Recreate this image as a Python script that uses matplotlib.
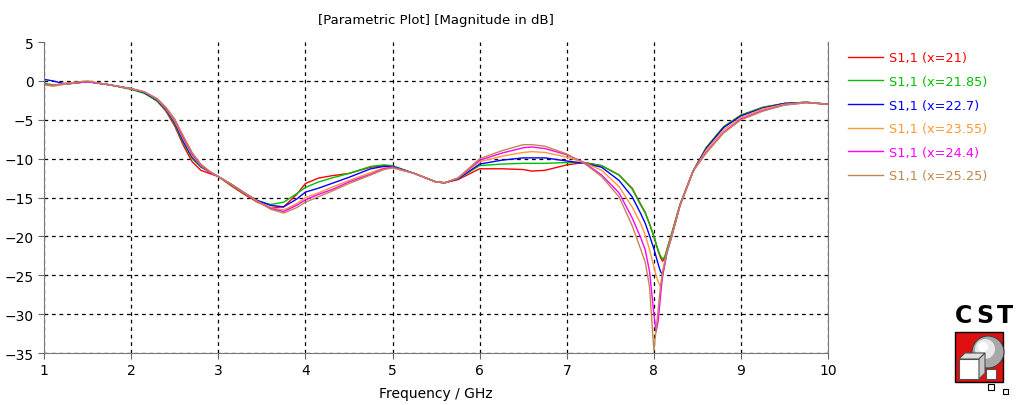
import matplotlib.pyplot as plt
from matplotlib.patches import Rectangle, Circle, Polygon

# frequency samples (GHz), shared by all six curves
freq = [1.0, 1.1, 1.25, 1.5, 1.75, 2.0, 2.15, 2.3, 2.4, 2.5, 2.6, 2.7, 2.8, 2.9, 3.0,
        3.15, 3.3, 3.45, 3.6, 3.75, 3.9, 4.0, 4.15, 4.3, 4.5,
        4.75, 4.9, 5.0, 5.25, 5.5, 5.6, 5.75, 6.0,
        6.25, 6.5, 6.6, 6.75, 7.0, 7.2, 7.4,
        7.6, 7.75, 7.85, 7.9, 7.95, 8.0, 8.025, 8.05, 8.075, 8.1, 8.125, 8.15, 8.2, 8.3, 8.45,
        8.6, 8.8, 9.0, 9.25, 9.5, 9.75, 10.0]

s11_x21 = [-0.4, -0.6, -0.4, -0.1, -0.5, -1.0, -1.5, -2.6, -3.9, -5.8, -8.3, -10.4, -11.5, -11.9, -12.3,
           -13.5, -14.6, -15.6, -16.3, -16.2, -14.6, -13.2, -12.5, -12.2, -11.9,
           -11.1, -10.9, -11.0, -11.9, -13.0, -13.1, -12.7, -11.3,
           -11.3, -11.4, -11.6, -11.5, -10.8, -10.5, -10.9,
           -12.1, -13.8, -15.9, -16.9, -18.4, -20.0, -21.0, -21.9, -22.7, -23.2, -22.7, -21.7, -19.8, -15.9, -11.6,
           -8.6, -5.9, -4.4, -3.4, -2.9, -2.75, -3.0]

s11_x21_85 = [-0.3, -0.5, -0.4, -0.1, -0.5, -1.1, -1.6, -2.6, -3.8, -5.6, -8.0, -10.0, -11.1, -11.7, -12.3,
              -13.4, -14.5, -15.4, -15.9, -15.6, -14.5, -13.7, -13.0, -12.5, -11.9,
              -11.0, -10.8, -10.9, -11.9, -13.0, -13.1, -12.6, -10.9,
              -10.7, -10.6, -10.6, -10.6, -10.5, -10.5, -10.9,
              -12.1, -13.9, -16.0, -17.0, -18.4, -20.0, -20.9, -21.8, -22.5, -22.9, -22.6, -21.6, -19.8, -15.9, -11.6,
              -8.6, -5.9, -4.4, -3.4, -2.9, -2.75, -3.0]

s11_x22_7 = [0.2, 0.0, -0.4, -0.1, -0.5, -1.0, -1.5, -2.5, -3.7, -5.4, -7.8, -9.8, -11.0, -11.7, -12.3,
             -13.3, -14.4, -15.4, -16.0, -16.2, -15.2, -14.3, -13.8, -13.2, -12.4,
             -11.3, -11.0, -11.0, -11.9, -13.0, -13.1, -12.6, -10.7,
             -10.2, -9.9, -9.9, -9.9, -10.3, -10.6, -11.1,
             -12.8, -14.9, -17.1, -18.3, -19.9, -21.6, -22.6, -23.6, -24.5, -24.9, -23.6, -22.1, -20.2, -16.0, -11.6,
             -8.7, -6.0, -4.5, -3.5, -2.9, -2.75, -3.0]

s11_x23_55 = [-0.5, -0.7, -0.4, -0.1, -0.5, -1.0, -1.4, -2.4, -3.6, -5.2, -7.5, -9.6, -10.9, -11.7, -12.3,
              -13.3, -14.4, -15.5, -16.3, -16.6, -15.8, -15.0, -14.4, -13.7, -12.8,
              -11.8, -11.2, -11.1, -11.9, -13.0, -13.1, -12.5, -10.4,
              -9.7, -9.2, -9.1, -9.2, -9.8, -10.5, -11.5,
              -13.6, -16.2, -18.4, -19.8, -21.7, -23.9, -25.0, -25.9, -26.4, -25.2, -23.5, -22.0, -20.2, -16.0, -11.6,
              -8.9, -6.3, -4.7, -3.6, -3.0, -2.75, -3.0]

s11_x24_4 = [-0.4, -0.6, -0.3, -0.1, -0.5, -1.0, -1.4, -2.3, -3.5, -5.0, -7.3, -9.4, -10.8, -11.7, -12.3,
             -13.3, -14.4, -15.5, -16.4, -16.8, -16.0, -15.3, -14.6, -14.0, -13.0,
             -12.0, -11.3, -11.1, -11.9, -13.0, -13.1, -12.5, -10.2,
             -9.3, -8.6, -8.5, -8.7, -9.5, -10.5, -12.1,
             -14.4, -17.6, -20.2, -21.7, -24.5, -30.0, -32.3, -30.8, -27.8, -25.0, -23.3, -21.9, -20.1, -16.0, -11.6,
             -9.2, -6.6, -4.9, -3.8, -3.1, -2.8, -3.0]

s11_x25_25 = [-0.5, -0.6, -0.3, 0.0, -0.5, -1.0, -1.4, -2.3, -3.4, -4.9, -7.1, -9.2, -10.7, -11.6, -12.3,
              -13.3, -14.4, -15.5, -16.5, -17.0, -16.3, -15.6, -14.9, -14.2, -13.2,
              -12.1, -11.4, -11.2, -11.9, -13.0, -13.1, -12.5, -10.0,
              -9.0, -8.2, -8.2, -8.4, -9.4, -10.6, -12.3,
              -14.9, -18.6, -21.7, -23.3, -26.5, -34.7, -32.0, -29.3, -26.5, -24.5, -23.2, -21.9, -20.1, -16.0, -11.6,
              -9.3, -6.7, -5.0, -3.9, -3.1, -2.8, -3.0]

series = [s11_x21, s11_x21_85, s11_x22_7, s11_x23_55, s11_x24_4, s11_x25_25]
labels = ["S1,1 (x=21)", "S1,1 (x=21.85)", "S1,1 (x=22.7)",
          "S1,1 (x=23.55)", "S1,1 (x=24.4)", "S1,1 (x=25.25)"]
colors = ["#ff0000", "#00c000", "#0000ff", "#ff9933", "#ff00ff", "#c08850"]

fig = plt.figure(figsize=(10.17, 4.06), dpi=100)
ax = fig.add_axes([0.0433, 0.128, 0.771, 0.766])

for vals, lab, col in zip(series, labels, colors):
    ax.plot(freq, vals, color=col, lw=1.0, label=lab)

ax.set_xlim(1, 10)
ax.set_ylim(-35, 5)
ax.set_xticks(range(1, 11))
ax.set_yticks(range(-35, 6, 5))
ax.grid(True, color='black', linestyle=(0, (3, 3)), linewidth=0.9)
ax.yaxis.get_gridlines()[-1].set_visible(False)  # no dashed line at the top (5 dB)
ax.tick_params(labelsize=10, length=4, color='#666666')
for side in ['left', 'bottom', 'right']:
    ax.spines[side].set_color('#777777')
ax.spines['top'].set_visible(False)

ax.set_title("[Parametric Plot] [Magnitude in dB]", fontsize=9.5, pad=14)
ax.set_xlabel("Frequency / GHz", fontsize=10, labelpad=6)

leg = ax.legend(loc='upper left', bbox_to_anchor=(1.0255, 0.97), frameon=False,
                borderaxespad=0, borderpad=0,
                labelcolor='linecolor', fontsize=9.3, handlelength=2.7,
                handletextpad=0.5, labelspacing=0.82)

# CST logo (drawn in a small axes measured in pixels)
for letter, px in zip("CST", [964, 985, 1005]):
    fig.text(px / 1017, 1 - 316 / 406, letter, fontsize=17, fontweight='bold',
             ha='center', va='center')
logo = fig.add_axes([950 / 1017, 6 / 406, 62 / 1017, 70 / 406])
logo.set_xlim(0, 62)
logo.set_ylim(0, 70)
logo.axis('off')
logo.add_patch(Rectangle((5, 17), 48, 50, facecolor='#e01010', edgecolor='black', lw=1))
logo.add_patch(Circle((38, 47), 16, facecolor='#a8a8a8', edgecolor='#404040', lw=0.8))
logo.add_patch(Circle((35, 50), 10, facecolor='#e8e8e8', edgecolor='none'))
logo.add_patch(Circle((33, 52), 5, facecolor='white', edgecolor='none'))
logo.add_patch(Polygon([(9, 20), (29, 20), (29, 40), (9, 40)],
                       facecolor='white', edgecolor='#505050', lw=0.8))
logo.add_patch(Polygon([(9, 40), (15, 46), (35, 46), (29, 40)],
                       facecolor='#e0e0e0', edgecolor='#505050', lw=0.8))
logo.add_patch(Polygon([(29, 20), (35, 26), (35, 46), (29, 40)],
                       facecolor='#c8c8c8', edgecolor='#505050', lw=0.8))
logo.add_patch(Rectangle((36, 20), 10, 10, facecolor='white', edgecolor='#505050', lw=0.8))
logo.add_patch(Rectangle((38, 9), 6, 6, facecolor='white', edgecolor='black', lw=0.8))
logo.add_patch(Rectangle((53, 5), 5, 5, facecolor='white', edgecolor='black', lw=0.8))

fig.savefig("out.png", dpi=100)
